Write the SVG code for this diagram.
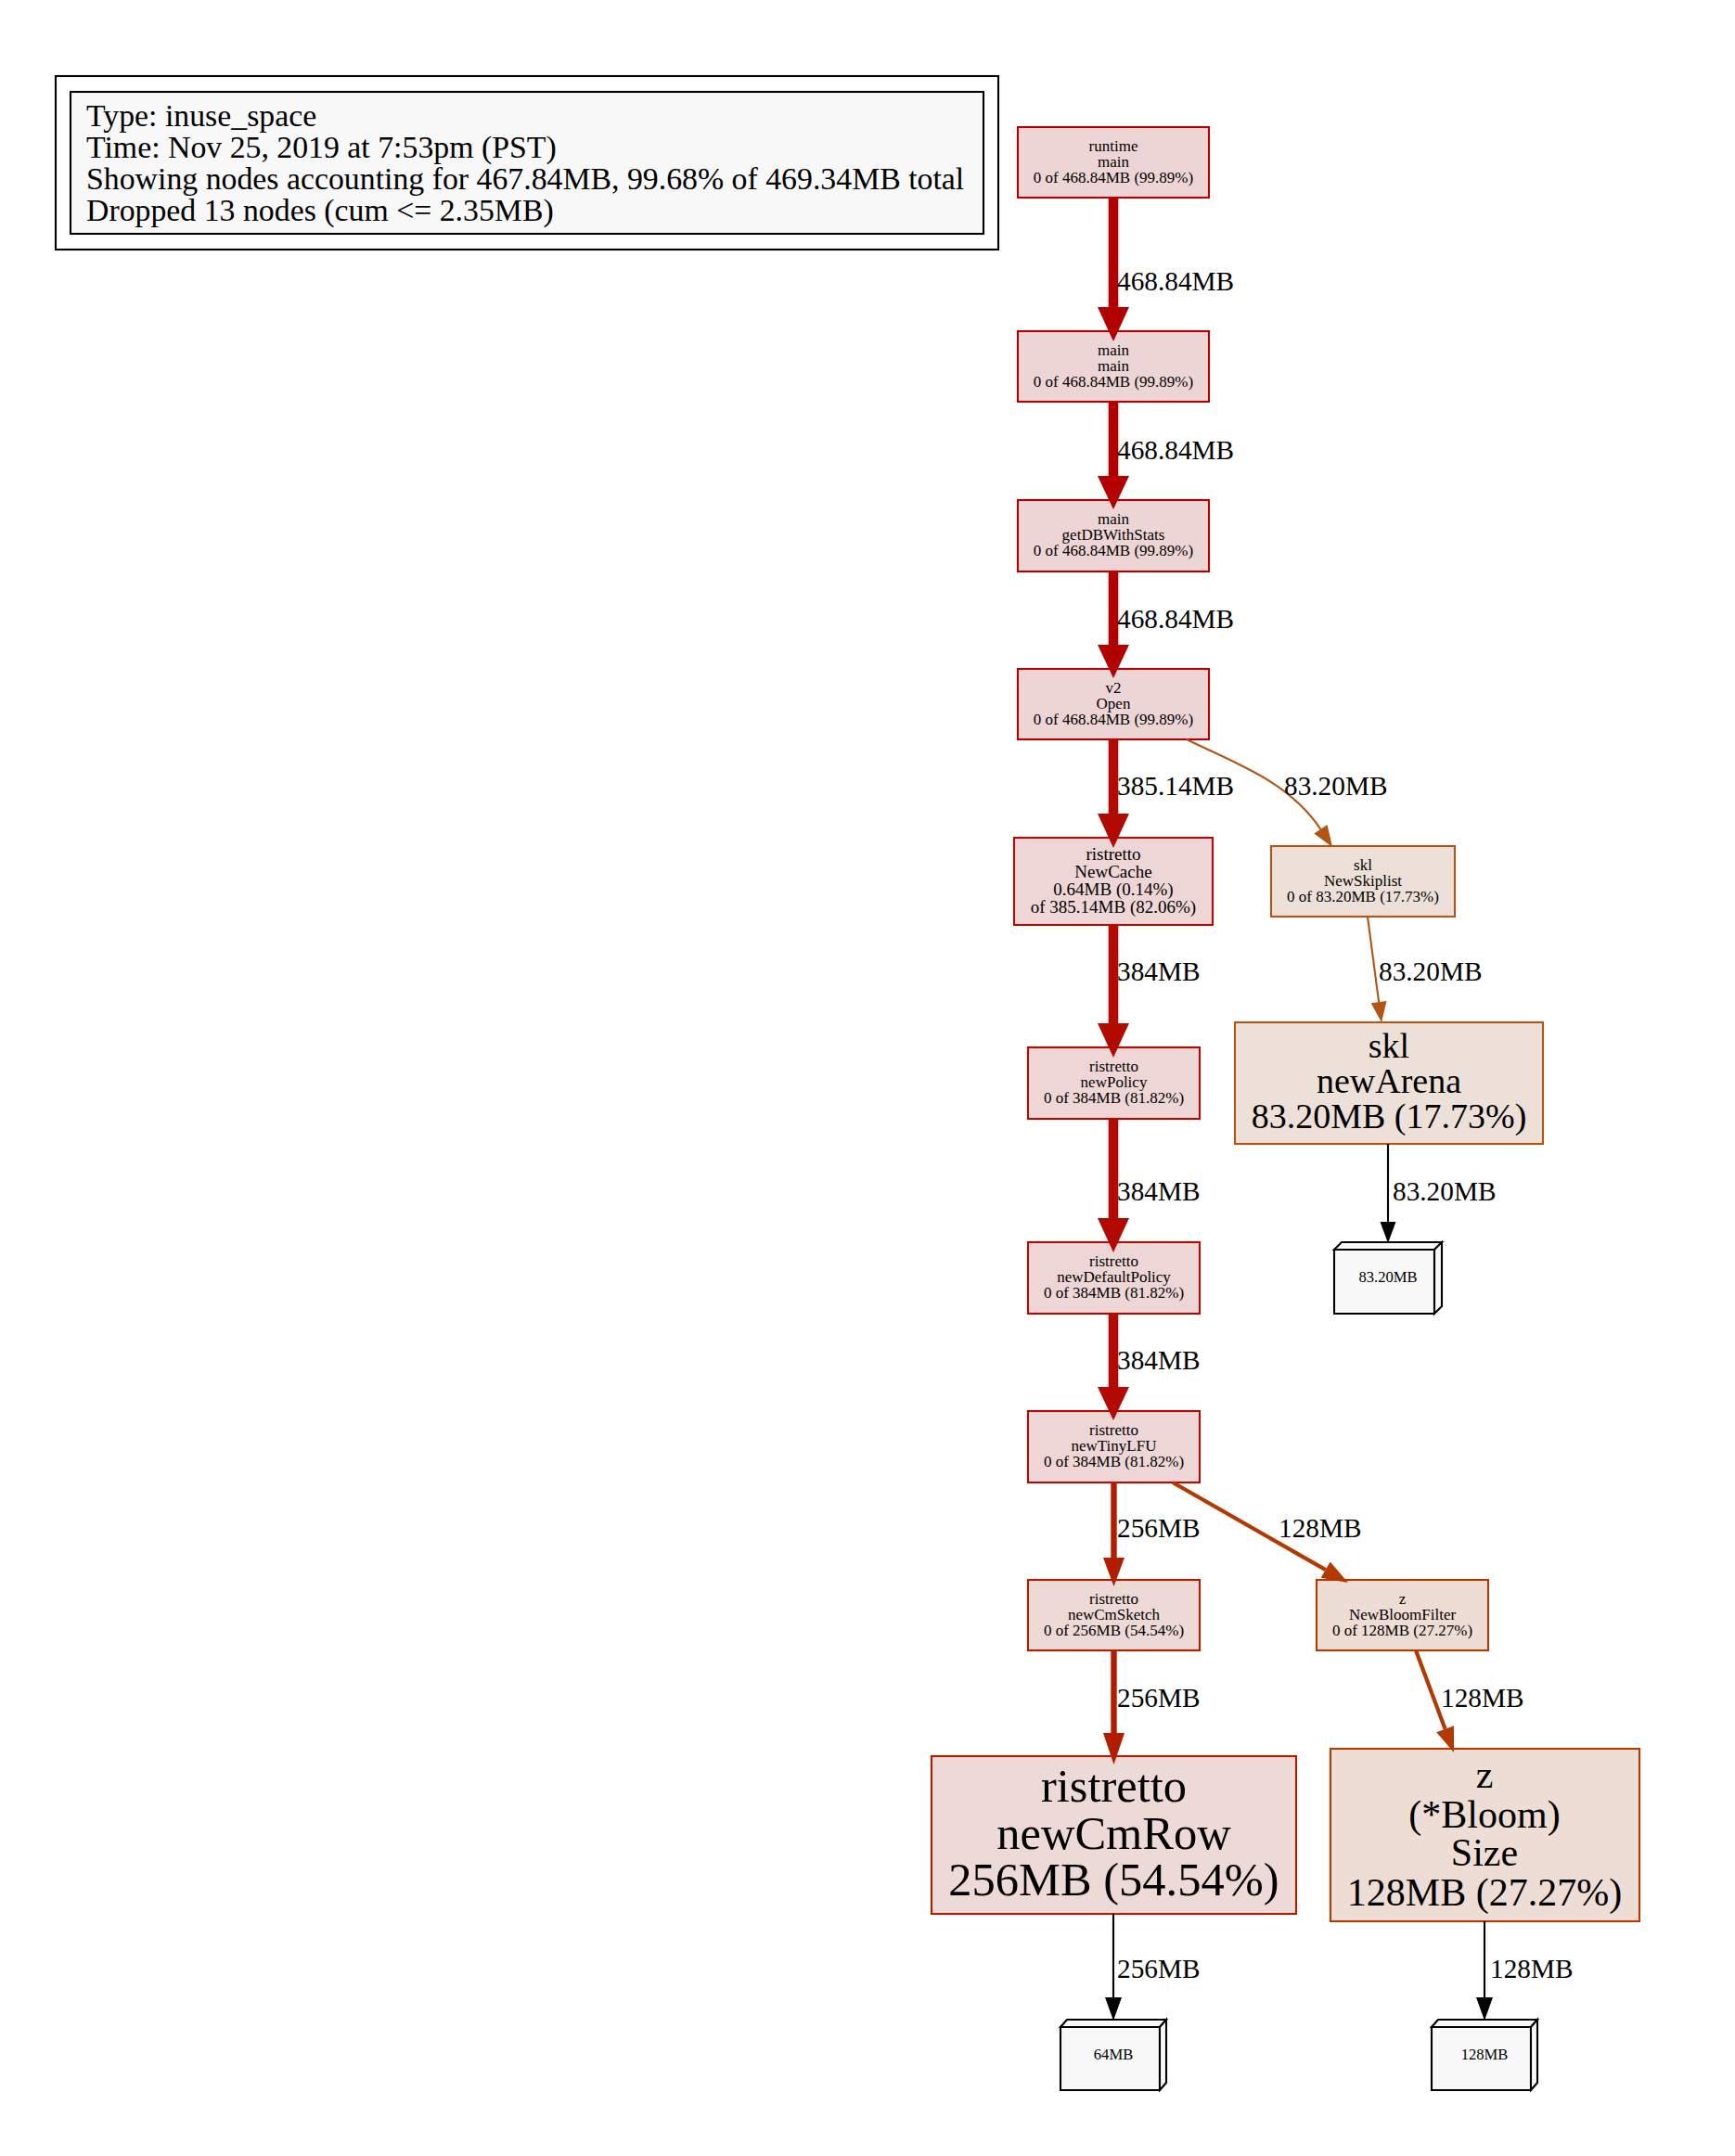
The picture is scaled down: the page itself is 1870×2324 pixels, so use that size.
<svg xmlns="http://www.w3.org/2000/svg" width="1870" height="2324" viewBox="0 0 1870 2324">
<style>
text{font-family:"Liberation Serif","Times New Roman",serif;fill:#000}
.c{text-anchor:middle}
.s{font-size:17px}
.m{font-size:19px}
.el{font-size:29.3px}
.lg{font-size:33.8px}
.cb{font-size:16.6px}
.b{stroke-width:2.1}
.p100{fill:#edd5d5;stroke:#b20000}
.p82{fill:#edd6d5;stroke:#b20a00}
.p54{fill:#edd9d5;stroke:#b21d00}
.p27{fill:#edddd5;stroke:#b23900}
.p17{fill:#ede0d8;stroke:#b25414}
.cube{fill:#f8f8f8;stroke:#000;stroke-width:2.1;stroke-linejoin:miter}
.e{fill:none}
.k100{stroke:#b20000}
.k82{stroke:#b20a00}
.k54{stroke:#b21d00}
.k27{stroke:#b23900}
.k17{stroke:#b25414}
.kb{stroke:#000}
.w5{stroke-width:10.6}
.w3{stroke-width:6.4}
.w2{stroke-width:4.2}
.w1{stroke-width:2.1}
.a100{fill:#b20000}
.a82{fill:#b20a00}
.a54{fill:#b21d00}
.a27{fill:#b23900}
.a17{fill:#b25414}
.ab{fill:#000}
</style>
<rect width="1870" height="2324" fill="#fff"/>

<g id="legend">
<rect x="60" y="82" width="1016" height="187" fill="#fff" stroke="#000" stroke-width="2.1"/>
<rect x="76" y="99" width="984" height="153" fill="#f8f8f8" stroke="#000" stroke-width="2.1"/>
<text class="lg" x="93" y="135.5">Type: inuse_space</text>
<text class="lg" x="93" y="169.5">Time: Nov 25, 2019 at 7:53pm (PST)</text>
<text class="lg" x="93" y="203.5">Showing nodes accounting for 467.84MB, 99.68% of 469.34MB total</text>
<text class="lg" x="93" y="237.5">Dropped 13 nodes (cum &lt;= 2.35MB)</text>
</g>

<g id="node-runtime-main">
<rect class="b p100" x="1097" y="137" width="206" height="76"/>
<text class="s c" x="1200" y="163">runtime</text>
<text class="s c" x="1200" y="180">main</text>
<text class="s c" x="1200" y="197">0 of 468.84MB (99.89%)</text>
</g>
<g id="node-main-main">
<rect class="b p100" x="1097" y="357" width="206" height="76"/>
<text class="s c" x="1200" y="383">main</text>
<text class="s c" x="1200" y="400">main</text>
<text class="s c" x="1200" y="417">0 of 468.84MB (99.89%)</text>
</g>
<g id="node-main-getDBWithStats">
<rect class="b p100" x="1097" y="539" width="206" height="77"/>
<text class="s c" x="1200" y="565">main</text>
<text class="s c" x="1200" y="582">getDBWithStats</text>
<text class="s c" x="1200" y="599">0 of 468.84MB (99.89%)</text>
</g>
<g id="node-v2-Open">
<rect class="b p100" x="1097" y="721" width="206" height="76"/>
<text class="s c" x="1200" y="747">v2</text>
<text class="s c" x="1200" y="764">Open</text>
<text class="s c" x="1200" y="781">0 of 468.84MB (99.89%)</text>
</g>
<g id="node-ristretto-NewCache">
<rect class="b p82" x="1093" y="903" width="214" height="94"/>
<text class="m c" x="1200" y="927">ristretto</text>
<text class="m c" x="1200" y="946">NewCache</text>
<text class="m c" x="1200" y="965">0.64MB (0.14%)</text>
<text class="m c" x="1200" y="984">of 385.14MB (82.06%)</text>
</g>
<g id="node-skl-NewSkiplist">
<rect class="b p17" x="1370" y="912" width="198" height="76"/>
<text class="s c" x="1469" y="938">skl</text>
<text class="s c" x="1469" y="955">NewSkiplist</text>
<text class="s c" x="1469" y="972">0 of 83.20MB (17.73%)</text>
</g>
<g id="node-ristretto-newPolicy">
<rect class="b p82" x="1108" y="1129" width="185" height="77"/>
<text class="s c" x="1200.5" y="1155">ristretto</text>
<text class="s c" x="1200.5" y="1172">newPolicy</text>
<text class="s c" x="1200.5" y="1189">0 of 384MB (81.82%)</text>
</g>
<g id="node-skl-newArena">
<rect class="b p17" x="1331" y="1102" width="332" height="131"/>
<text class="c" style="font-size:38px" x="1497" y="1140">skl</text>
<text class="c" style="font-size:38px" x="1497" y="1178">newArena</text>
<text class="c" style="font-size:38px" x="1497" y="1216">83.20MB (17.73%)</text>
</g>
<g id="node-cube-83MB">
<polygon class="cube" points="1438,1347 1546,1347 1546,1416 1438,1416"/>
<polygon class="cube" points="1438,1347 1446,1339 1554,1339 1546,1347"/>
<polygon class="cube" points="1546,1347 1554,1339 1554,1408 1546,1416"/>
<text class="cb c" x="1496" y="1382">83.20MB</text>
</g>
<g id="node-ristretto-newDefaultPolicy">
<rect class="b p82" x="1108" y="1339" width="185" height="77"/>
<text class="s c" x="1200.5" y="1365">ristretto</text>
<text class="s c" x="1200.5" y="1382">newDefaultPolicy</text>
<text class="s c" x="1200.5" y="1399">0 of 384MB (81.82%)</text>
</g>
<g id="node-ristretto-newTinyLFU">
<rect class="b p82" x="1108" y="1521" width="185" height="77"/>
<text class="s c" x="1200.5" y="1547">ristretto</text>
<text class="s c" x="1200.5" y="1564">newTinyLFU</text>
<text class="s c" x="1200.5" y="1581">0 of 384MB (81.82%)</text>
</g>
<g id="node-ristretto-newCmSketch">
<rect class="b p54" x="1108" y="1703" width="185" height="76"/>
<text class="s c" x="1200.5" y="1729">ristretto</text>
<text class="s c" x="1200.5" y="1746">newCmSketch</text>
<text class="s c" x="1200.5" y="1763">0 of 256MB (54.54%)</text>
</g>
<g id="node-z-NewBloomFilter">
<rect class="b p27" x="1419" y="1703" width="185" height="76"/>
<text class="s c" x="1511.5" y="1729">z</text>
<text class="s c" x="1511.5" y="1746">NewBloomFilter</text>
<text class="s c" x="1511.5" y="1763">0 of 128MB (27.27%)</text>
</g>
<g id="node-ristretto-newCmRow">
<rect class="b p54" x="1004" y="1893" width="393" height="170"/>
<text class="c" style="font-size:50.5px" x="1200.5" y="1942">ristretto</text>
<text class="c" style="font-size:50.5px" x="1200.5" y="1993">newCmRow</text>
<text class="c" style="font-size:50.5px" x="1200.5" y="2043">256MB (54.54%)</text>
</g>
<g id="node-z-Bloom-Size">
<rect class="b p27" x="1434" y="1885" width="333" height="186"/>
<text class="c" style="font-size:42px" x="1600" y="1927">z</text>
<text class="c" style="font-size:42px" x="1600" y="1970">(*Bloom)</text>
<text class="c" style="font-size:42px" x="1600" y="2011">Size</text>
<text class="c" style="font-size:42px" x="1600" y="2054">128MB (27.27%)</text>
</g>
<g id="node-cube-64MB">
<polygon class="cube" points="1143,2185 1250,2185 1250,2253 1143,2253"/>
<polygon class="cube" points="1143,2185 1150,2177 1257,2177 1250,2185"/>
<polygon class="cube" points="1250,2185 1257,2177 1257,2245 1250,2253"/>
<text class="cb c" x="1200" y="2220">64MB</text>
</g>
<g id="node-cube-128MB">
<polygon class="cube" points="1543,2185 1650,2185 1650,2253 1543,2253"/>
<polygon class="cube" points="1543,2185 1550,2177 1657,2177 1650,2185"/>
<polygon class="cube" points="1650,2185 1657,2177 1657,2245 1650,2253"/>
<text class="cb c" x="1600" y="2220">128MB</text>
</g>

<g id="connectors">
<path class="e k100 w5" d="M1200,213V331"/>
<polygon class="a100" points="1183,331 1217,331 1200,368"/>
<text class="el" x="1204" y="313">468.84MB</text>

<path class="e k100 w5" d="M1200,433V513"/>
<polygon class="a100" points="1183,513 1217,513 1200,549"/>
<text class="el" x="1204" y="495">468.84MB</text>

<path class="e k100 w5" d="M1200,616V695"/>
<polygon class="a100" points="1183,695 1217,695 1200,731"/>
<text class="el" x="1204" y="677">468.84MB</text>

<path class="e k82 w5" d="M1200,797V877"/>
<polygon class="a82" points="1183,877 1217,877 1200,914"/>
<text class="el" x="1204" y="857">385.14MB</text>

<path class="e k17 w1" d="M1279,797C1329,822 1388,841 1423.4,893.8"/>
<polygon class="a17" points="1430.5,889.1 1416.3,898.5 1436,913"/>
<text class="el" x="1384" y="857">83.20MB</text>

<path class="e k82 w5" d="M1200,997V1103"/>
<polygon class="a82" points="1183,1103 1217,1103 1200,1140"/>
<text class="el" x="1204" y="1057">384MB</text>

<path class="e k17 w1" d="M1474,988L1486.1,1080.2"/>
<polygon class="a17" points="1494.5,1079.1 1477.7,1081.3 1489,1102"/>
<text class="el" x="1486" y="1057">83.20MB</text>

<path class="e k82 w5" d="M1200,1206V1313"/>
<polygon class="a82" points="1183,1313 1217,1313 1200,1350"/>
<text class="el" x="1204" y="1294">384MB</text>

<path class="e kb w1" d="M1496,1233V1317"/>
<polygon class="ab" points="1487.5,1317 1504.5,1317 1496,1340"/>
<text class="el" x="1501" y="1294">83.20MB</text>

<path class="e k82 w5" d="M1200,1416V1495"/>
<polygon class="a82" points="1183,1495 1217,1495 1200,1531"/>
<text class="el" x="1204" y="1476">384MB</text>

<path class="e k54 w3" d="M1200.5,1598V1679"/>
<polygon class="a54" points="1189,1679 1212,1679 1200.5,1710"/>
<text class="el" x="1204" y="1657">256MB</text>

<path class="e k27 w2" d="M1264,1598L1428.7,1692.1"/>
<polygon class="a27" points="1433.7,1683.4 1423.7,1700.8 1453,1706"/>
<text class="el" x="1378" y="1657">128MB</text>

<path class="e k54 w3" d="M1200.5,1779V1868"/>
<polygon class="a54" points="1189,1868 1212,1868 1200.5,1902"/>
<text class="el" x="1204" y="1840">256MB</text>

<path class="e k27 w2" d="M1526,1779L1557.6,1863.7"/>
<polygon class="a27" points="1567,1860.2 1548.2,1867.2 1567,1889"/>
<text class="el" x="1553" y="1840">128MB</text>

<path class="e kb w1" d="M1200,2063V2153"/>
<polygon class="ab" points="1191,2153 1209,2153 1200,2178"/>
<text class="el" x="1204" y="2132">256MB</text>

<path class="e kb w1" d="M1600,2071V2153"/>
<polygon class="ab" points="1591,2153 1609,2153 1600,2178"/>
<text class="el" x="1606" y="2132">128MB</text>
</g>
</svg>
